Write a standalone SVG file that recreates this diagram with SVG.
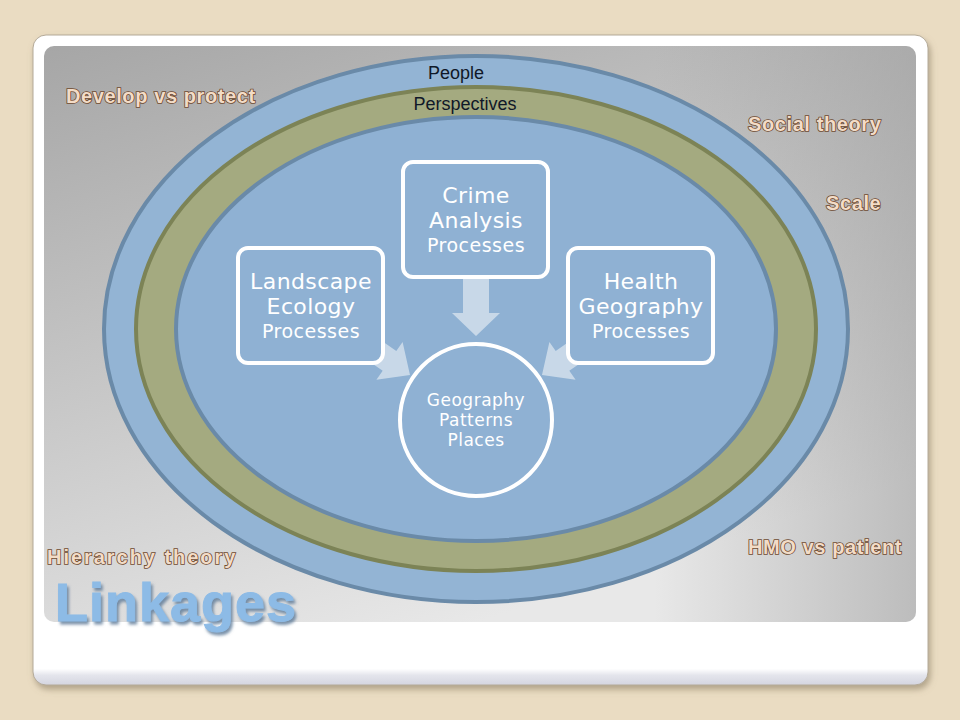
<svg xmlns="http://www.w3.org/2000/svg" width="960" height="720" viewBox="0 0 960 720">
<defs>
<linearGradient id="panel" x1="0" y1="0" x2="0.5" y2="1">
<stop offset="0" stop-color="#a6a6a6"/>
<stop offset="1" stop-color="#e8e8e8"/>
</linearGradient>
<linearGradient id="edge" x1="0" y1="0" x2="1" y2="0">
<stop offset="0.7" stop-color="#999" stop-opacity="0"/>
<stop offset="1" stop-color="#999" stop-opacity="0.55"/>
</linearGradient>
<linearGradient id="cardshadow" x1="0" y1="0" x2="0" y2="1">
<stop offset="0" stop-color="#ffffff"/>
<stop offset="0.975" stop-color="#ffffff"/>
<stop offset="0.985" stop-color="#e4e5ec"/>
<stop offset="1" stop-color="#d4d5e0"/>
</linearGradient>
<filter id="sh" x="-5%" y="-5%" width="110%" height="115%">
<feDropShadow dx="2" dy="4" stdDeviation="3" flood-color="#8a7c64" flood-opacity="0.6"/>
</filter>
<filter id="tsh" x="-5%" y="-10%" width="115%" height="130%">
<feDropShadow dx="2" dy="3" stdDeviation="1.5" flood-color="#5a7896" flood-opacity="0.8"/>
</filter>
</defs>
<style>
.lbl{font-family:"Liberation Sans",Arial,sans-serif;font-weight:bold;font-size:20px;letter-spacing:0.6px;fill:#f3dcc7;stroke:#6e4a30;stroke-width:1.6px;paint-order:stroke fill}
.ring{font-family:"Liberation Sans",Arial,sans-serif;font-size:18px;fill:#101828;text-anchor:middle}
.box{fill:#8fb1d3;stroke:#ffffff;stroke-width:4}
.bt{font-family:"DejaVu Sans",Verdana,sans-serif;fill:#ffffff;text-anchor:middle}
.big{font-size:22px;letter-spacing:0.4px}
.sm{font-size:19px;letter-spacing:0.5px}
.arr{fill:#d6e2ee;fill-opacity:0.8}
</style>
<rect width="960" height="720" fill="#eadcc2"/>
<rect x="33" y="35" width="895" height="650" rx="13" fill="url(#cardshadow)" stroke="#b4aa98" stroke-width="1" filter="url(#sh)"/>
<rect x="44" y="46" width="872" height="576" rx="10" fill="url(#panel)"/>
<rect x="44" y="46" width="872" height="576" rx="10" fill="url(#edge)"/>

<g id="ring-people">
<ellipse cx="476" cy="329" rx="372" ry="273" fill="#93b4d4" stroke="#6a8aa8" stroke-width="4"/>
<text class="ring" x="456" y="79">People</text>
</g>
<g id="ring-perspectives">
<ellipse cx="476" cy="329" rx="340" ry="242" fill="#a4aa80" stroke="#7c8356" stroke-width="4"/>
<text class="ring" x="465" y="110">Perspectives</text>
</g>
<g id="ring-inner">
<ellipse cx="476" cy="329" rx="300" ry="212" fill="#8fb1d3" stroke="#6a8aa8" stroke-width="4"/>
</g>

<g id="connectors">
<polygon class="arr" points="463,277 489,277 489,313 500,313 476,336 452,313 463,313"/>
<polygon class="arr" points="363.4,328.1 396.3,350.9 402.6,341.9 410,375 376.4,379.7 382.7,370.7 349.8,347.9"/>
<polygon class="arr" points="588.6,328.1 555.7,350.9 549.4,341.9 542,375 575.6,379.7 569.3,370.7 602.2,347.9"/>
</g>

<g id="landscape">
<rect class="box" x="238" y="248" width="145" height="115" rx="10"/>
<text class="bt big" x="311" y="289">Landscape</text>
<text class="bt big" x="311" y="314">Ecology</text>
<text class="bt sm" x="311" y="338">Processes</text>
</g>
<g id="crime">
<rect class="box" x="403" y="162" width="145" height="115" rx="10"/>
<text class="bt big" x="476" y="203">Crime</text>
<text class="bt big" x="476" y="228">Analysis</text>
<text class="bt sm" x="476" y="252">Processes</text>
</g>
<g id="health">
<rect class="box" x="568" y="248" width="145" height="115" rx="10"/>
<text class="bt big" x="641" y="289">Health</text>
<text class="bt big" x="641" y="314">Geography</text>
<text class="bt sm" x="641" y="338">Processes</text>
</g>
<g id="geography">
<circle class="box" cx="476" cy="420" r="76"/>
<text class="bt" font-size="17" letter-spacing="0.5" x="476" y="406">Geography</text>
<text class="bt" font-size="17" letter-spacing="0.5" x="476" y="426">Patterns</text>
<text class="bt" font-size="17" letter-spacing="0.5" x="476" y="446">Places</text>
</g>

<g id="labels">
<text class="lbl" x="66" y="103">Develop vs protect</text>
<text class="lbl" x="748" y="131">Social theory</text>
<text class="lbl" x="826" y="210">Scale</text>
<text class="lbl" x="47" y="564" textLength="189" lengthAdjust="spacing">Hierarchy theory</text>
<text class="lbl" x="748" y="554">HMO vs patient</text>
<text x="55" y="621" font-family="'Liberation Sans',Arial,sans-serif" font-weight="bold" font-size="54" letter-spacing="1" fill="#8dbbe6" stroke="#8dbbe6" stroke-width="1" filter="url(#tsh)">Linkages</text>
</g>
</svg>
